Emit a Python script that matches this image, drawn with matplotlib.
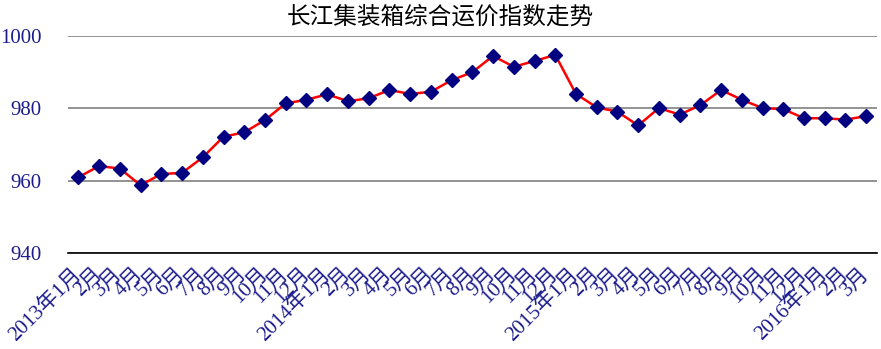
import matplotlib
matplotlib.use("Agg")
import matplotlib.pyplot as plt

# ---------------------------------------------------------------------------
# Data
# ---------------------------------------------------------------------------
months = (
    ["2013年1月"] + [f"{m}月" for m in range(2, 13)]
    + ["2014年1月"] + [f"{m}月" for m in range(2, 13)]
    + ["2015年1月"] + [f"{m}月" for m in range(2, 13)]
    + ["2016年1月", "2月", "3月"]
)
index_values = [
    961.0, 964.1, 963.4, 958.8, 961.9, 962.2, 966.5, 972.2, 973.4, 976.8, 981.4, 982.4,
    983.9, 982.0, 982.8, 985.1, 984.0, 984.6, 987.8, 990.0, 994.5, 991.5, 993.1, 994.8,
    984.0, 980.3, 979.1, 975.3, 980.1, 978.3, 980.9, 985.1, 982.4, 980.1, 979.8, 977.3,
    977.3, 976.9, 977.9,
]
y_ticks = [940, 960, 980, 1000]

TICK_COLOR = "#1c1c8c"
LABEL_FONT = ["Liberation Serif", "Noto Sans CJK SC"]

# ---------------------------------------------------------------------------
# Plot
# ---------------------------------------------------------------------------
fig = plt.figure(figsize=(8.81, 3.49), dpi=100)
ax = fig.add_axes([0.0772, 0.2742, 0.9178, 0.6226])

x = list(range(len(months)))
ax.plot(x, index_values, color="red", linewidth=1.8,
        marker="D", markersize=7.5, markerfacecolor="#000080",
        markeredgecolor="#000080", zorder=3)

ax.set_xlim(-0.5, len(months) - 0.5)
ax.set_ylim(940, 1000)
ax.set_yticks(y_ticks)
ax.set_xticks(x)
ax.set_xticklabels(months, rotation=45, ha="right", va="center",
                   rotation_mode="anchor")

for lbl in ax.get_xticklabels() + ax.get_yticklabels():
    lbl.set_family(LABEL_FONT)
    lbl.set_color(TICK_COLOR)
for lbl in ax.get_yticklabels():
    lbl.set_fontsize(15)
for lbl in ax.get_xticklabels():
    lbl.set_fontsize(15)

ax.grid(axis="y", color="#808080", linewidth=1.2)
ax.set_axisbelow(True)
for side in ("top", "right", "left"):
    ax.spines[side].set_visible(False)
ax.spines["bottom"].set_color("black")
ax.spines["bottom"].set_linewidth(1.2)
ax.tick_params(axis="both", length=0)
ax.tick_params(axis="y", pad=19)
ax.tick_params(axis="x", pad=13)

fig.suptitle("长江集装箱综合运价指数走势", fontsize=17,
             family=["Noto Sans CJK SC", "DejaVu Sans"], y=0.985)

fig.savefig("out.png", dpi=100)
plt.close(fig)
